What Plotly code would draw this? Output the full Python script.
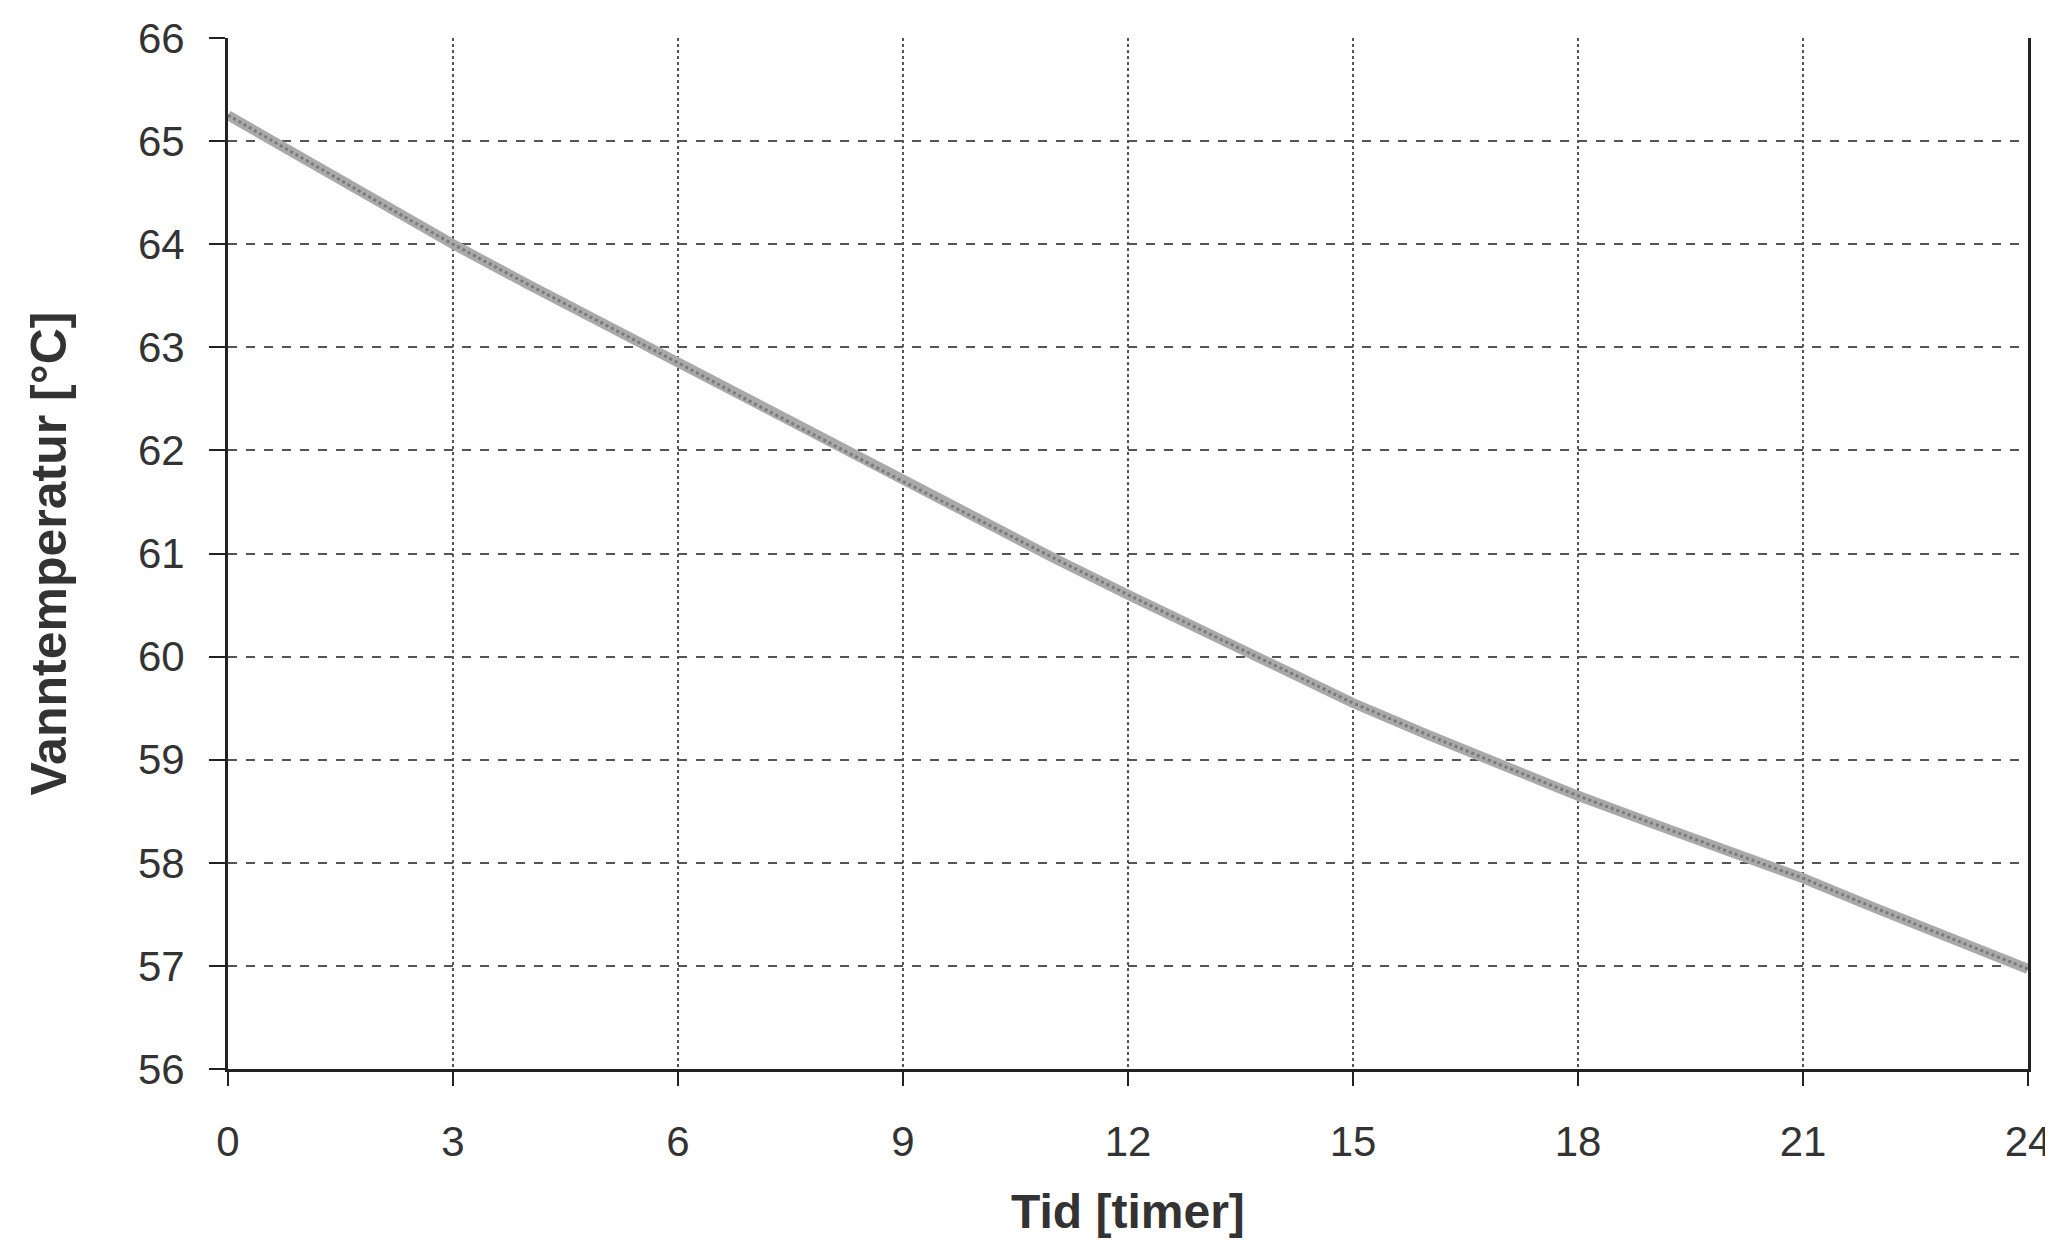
import plotly.graph_objects as go

# Data
hours = list(range(0, 25))
temperature = [65.25, 64.83, 64.41, 64.00, 63.61, 63.23, 62.85, 62.46, 62.08,
               61.70, 61.33, 60.96, 60.60, 60.25, 59.90, 59.55, 59.24, 58.94,
               58.65, 58.38, 58.11, 57.85, 57.55, 57.26, 56.97]
x_ticks = [0, 3, 6, 9, 12, 15, 18, 21, 24]
y_ticks = [56, 57, 58, 59, 60, 61, 62, 63, 64, 65, 66]
x_title = "Tid [timer]"
y_title = "Vanntemperatur [°C]"

fig = go.Figure()
fig.add_trace(go.Scatter(x=hours, y=temperature, mode="lines",
                         line=dict(color="#a9a9a9", width=10),
                         showlegend=False, hoverinfo="skip"))
fig.add_trace(go.Scatter(x=hours, y=temperature, mode="lines",
                         line=dict(color="#7a7a7a", width=3, dash="dot"),
                         showlegend=False))

font_family = "Liberation Sans, Arial, sans-serif"

# The page body has an 8px default margin, so the figure is sized to fit
fig.update_layout(
    width=2045, height=1236,
    margin=dict(l=220, r=25, t=30, b=175, autoexpand=False),
    paper_bgcolor="white", plot_bgcolor="white",
    font=dict(family=font_family, color="#333333", size=42),
    xaxis=dict(
        range=[0, 24], tickvals=x_ticks, ticktext=[str(v) for v in x_ticks],
        showgrid=True, gridcolor="#555555", gridwidth=2, griddash="dot",
        showline=True, linecolor="#222222", linewidth=3, mirror=False,
        ticks="outside", ticklen=14, tickwidth=2, tickcolor="#222222",
        ticklabelstandoff=20, zeroline=False, automargin=False,
    ),
    yaxis=dict(
        range=[56, 66], tickvals=y_ticks, ticktext=[str(v) for v in y_ticks],
        showgrid=True, gridcolor="#555555", gridwidth=2, griddash="dash",
        showline=True, linecolor="#222222", linewidth=3, mirror=True,
        ticks="outside", ticklen=16, tickwidth=2, tickcolor="#222222",
        ticklabelstandoff=16, zeroline=False, automargin=False,
    ),
    annotations=[
        dict(text="<b>" + x_title + "</b>", xref="paper", yref="paper",
             x=0.5, y=0, yshift=-142, xanchor="center", yanchor="middle",
             showarrow=False, font=dict(size=48, color="#333333")),
        dict(text="<b>" + y_title + "</b>", xref="paper", yref="paper",
             x=0, y=0.5, xshift=-180, xanchor="center", yanchor="middle",
             textangle=-90, showarrow=False, font=dict(size=50, color="#333333")),
    ],
)

fig.write_html("out.html")
